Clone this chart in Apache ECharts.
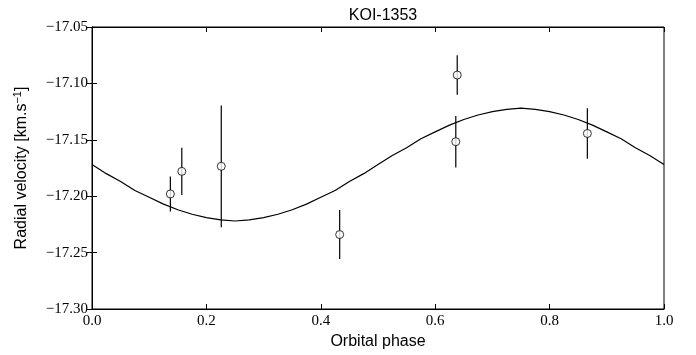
<!DOCTYPE html>
<html>
<head>
<meta charset="utf-8">
<script src="https://cdn.jsdelivr.net/npm/echarts@6/dist/echarts.min.js"></script>
<style>html,body{margin:0;padding:0;background:#fff;}#c{width:696px;height:355px;}</style>
</head>
<body>
<div id="c"></div>
<script>
// Observations
var phase = [0.137, 0.157, 0.226, 0.433, 0.6385, 0.636, 0.866];
var rv    = [-17.198, -17.178, -17.1735, -17.234, -17.0926, -17.1517, -17.1444];
var rvErr = [0.0155, 0.021, 0.054, 0.0217, 0.0175, 0.0228, 0.0223];
// Model curve
var modelPhase = [0, 0.025, 0.05, 0.075, 0.1, 0.125, 0.15, 0.175, 0.2, 0.225, 0.25, 0.275, 0.3, 0.325, 0.35, 0.375, 0.4, 0.425, 0.45, 0.475, 0.5,
                  0.525, 0.55, 0.575, 0.6, 0.625, 0.65, 0.675, 0.7, 0.725, 0.75, 0.775, 0.8, 0.825, 0.85, 0.875, 0.9, 0.925, 0.95, 0.975, 1.0];
var modelRv    = [-17.172, -17.180, -17.187, -17.195, -17.201, -17.207, -17.212, -17.216, -17.219, -17.221, -17.222, -17.221, -17.219, -17.216, -17.212, -17.207, -17.201, -17.195, -17.187, -17.180, -17.172,
                  -17.164, -17.157, -17.149, -17.143, -17.137, -17.132, -17.128, -17.125, -17.123, -17.122, -17.123, -17.125, -17.128, -17.132, -17.137, -17.143, -17.149, -17.157, -17.164, -17.172];
// Ticks
var xTicks = [0.0, 0.2, 0.4, 0.6, 0.8, 1.0];
var yTicks = [-17.30, -17.25, -17.20, -17.15, -17.10, -17.05];

var chart = echarts.init(document.getElementById('c'), null, {renderer: 'canvas'});
var serif = 'Liberation Serif';
var sans = 'Liberation Sans';

var points = phase.map(function (p, i) { return [p, rv[i]]; });
var bars = phase.map(function (p, i) { return [p, rv[i] - rvErr[i], rv[i] + rvErr[i]]; });
var model = modelPhase.map(function (p, i) { return [p, modelRv[i]]; });

var tickStyle = {show: true, inside: true, length: 5, lineStyle: {color: '#000', width: 1}};

chart.setOption({
  animation: false,
  backgroundColor: '#fff',
  title: {
    text: 'KOI-1353', left: 378, top: 3, textAlign: 'center',
    textStyle: {fontFamily: sans, fontSize: 16, fontWeight: 'normal', color: '#000'}
  },
  grid: {left: 92, right: 32, top: 27, bottom: 42, show: true, borderColor: '#000', borderWidth: 1, backgroundColor: 'transparent'},
  xAxis: [{
    type: 'value', min: 0, max: 1, interval: 0.2, position: 'bottom',
    name: 'Orbital phase', nameLocation: 'middle', nameGap: 25,
    nameTextStyle: {fontFamily: sans, fontSize: 16, color: '#000'},
    axisLine: {show: true, lineStyle: {color: '#000', width: 1}},
    axisTick: tickStyle,
    splitLine: {show: false},
    axisLabel: {fontFamily: serif, fontSize: 15, color: '#000', margin: 5,
      formatter: function (v) { var t = xTicks.find(function (k) { return Math.abs(k - v) < 1e-6; }); return (t === undefined ? v : t).toFixed(1); }}
  }, {
    type: 'value', min: 0, max: 1, interval: 0.2, position: 'top',
    axisLine: {show: true, lineStyle: {color: '#000', width: 1}},
    axisTick: tickStyle, axisLabel: {show: false}, splitLine: {show: false}
  }],
  yAxis: [{
    type: 'value', min: -17.30, max: -17.05, interval: 0.05, position: 'left',
    name: 'Radial velocity [km.s{sup|\u22121}]', nameLocation: 'middle', nameGap: 61, nameRotate: 90,
    nameTextStyle: {fontFamily: sans, fontSize: 16, color: '#000',
      rich: {sup: {fontFamily: sans, fontSize: 11, color: '#000', verticalAlign: 'top', padding: [0, 0, 8, 0]}}},
    axisLine: {show: true, lineStyle: {color: '#000', width: 1}},
    axisTick: tickStyle,
    splitLine: {show: false},
    axisLabel: {fontFamily: serif, fontSize: 15, color: '#000', margin: 4,
      formatter: function (v) { var t = yTicks.find(function (k) { return Math.abs(k - v) < 1e-6; }); return (t === undefined ? v : t).toFixed(2).replace('-', '\u2212'); }}
  }, {
    type: 'value', min: -17.30, max: -17.05, interval: 0.05, position: 'right',
    axisLine: {show: true, lineStyle: {color: '#000', width: 1}},
    axisTick: tickStyle, axisLabel: {show: false}, splitLine: {show: false}
  }],
  series: [{
    type: 'line', data: model, smooth: false, showSymbol: false, symbol: 'none',
    lineStyle: {color: '#000', width: 1.2}, z: 2, clip: true
  }, {
    type: 'custom', data: bars, z: 3,
    renderItem: function (params, api) {
      var top = api.coord([api.value(0), api.value(2)]);
      var bot = api.coord([api.value(0), api.value(1)]);
      return {type: 'line', shape: {x1: top[0], y1: top[1], x2: bot[0], y2: bot[1]},
        style: {stroke: '#000', lineWidth: 1.2}};
    }
  }, {
    type: 'scatter', data: points, symbol: 'circle', symbolSize: 8, z: 4,
    itemStyle: {color: '#fff', borderColor: '#000', borderWidth: 1}
  }]
});
</script>
</body>
</html>
